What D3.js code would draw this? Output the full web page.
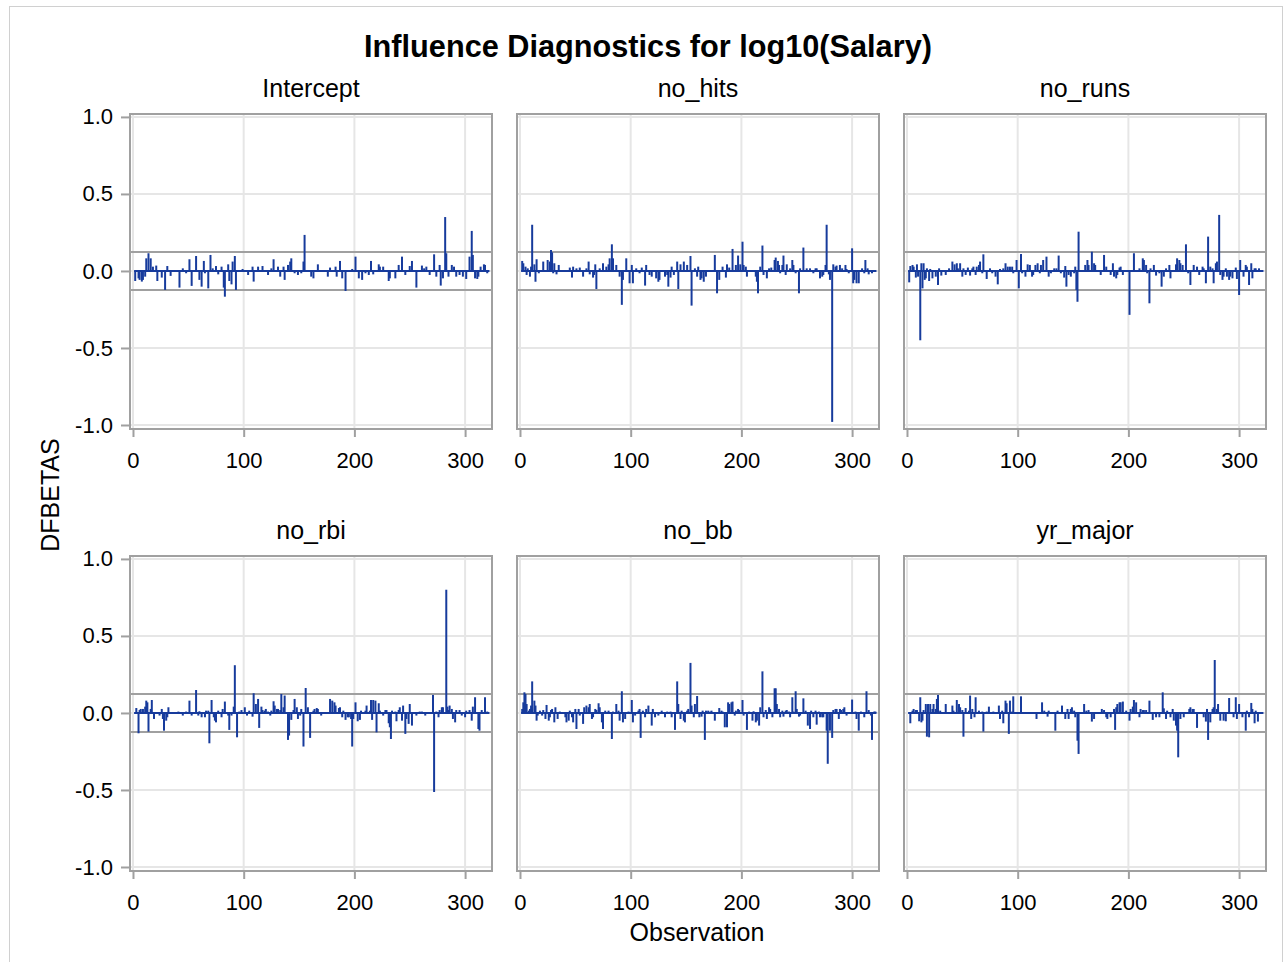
<!DOCTYPE html>
<html><head><meta charset="utf-8">
<script src="https://cdn.jsdelivr.net/npm/d3@7/dist/d3.min.js"></script>
<style>body{margin:0;background:#fff;}svg{display:block;font-family:"Liberation Sans",Arial,sans-serif;}</style>
</head><body>
<script>
// ---- data ----
const titleText = "Influence Diagnostics for log10(Salary)";
const panelNames = ["Intercept","no_hits","no_runs","no_rbi","no_bb","yr_major"];
const yTicks = [-1, -0.5, 0, 0.5, 1];
const yTickLabels = ["-1.0","-0.5","0.0","0.5","1.0"];
const xTicks = [0, 100, 200, 300];
const xTickLabels = ["0","100","200","300"];
const cutoff = 0.1233;   // 2/sqrt(n)
const nObs = 322;

// [observation, DFBETAS]
const intercept = [[2,-0.065],[5,-0.048],[6,-0.058],[8,-0.069],[9,-0.058],[11,-0.037],[12,0.082],[14,0.115],[16,0.082],[18,0.028],[21,0.035],[22,-0.065],[26,-0.043],[29,-0.123],[31,0.032],[34,-0.032],[42,-0.108],[45,0.017],[48,-0.015],[51,0.076],[53,-0.097],[57,0.097],[60,-0.058],[62,-0.102],[64,0.065],[65,-0.015],[68,-0.113],[70,0.104],[72,0.017],[75,0.032],[77,-0.022],[80,0.028],[82,-0.108],[83,-0.167],[86,0.043],[87,-0.065],[89,-0.087],[90,0.061],[92,0.097],[93,-0.123],[96,0.006],[99,0.013],[104,-0.026],[108,0.028],[109,-0.069],[113,0.028],[117,0.032],[122,-0.026],[125,0.017],[127,0.076],[131,0.028],[133,-0.037],[136,0.028],[137,-0.058],[140,0.039],[142,0.061],[143,0.082],[146,-0.015],[149,-0.026],[152,-0.015],[154,0.061],[155,0.234],[161,-0.037],[163,-0.048],[167,0.043],[176,-0.037],[178,0.022],[183,0.028],[184,-0.037],[187,0.065],[189,-0.048],[192,-0.13],[198,0.013],[201,0.093],[204,-0.048],[207,-0.058],[210,-0.015],[213,-0.026],[215,0.065],[217,-0.022],[222,0.043],[223,0.028],[226,0.028],[231,-0.065],[232,-0.048],[237,-0.048],[240,0.039],[243,0.093],[246,-0.026],[250,0.032],[252,0.065],[256,-0.108],[261,0.035],[263,0.017],[265,0.028],[268,-0.026],[272,0.108],[274,-0.037],[277,0.039],[278,-0.095],[280,-0.048],[282,0.35],[283,0.115],[285,-0.037],[288,0.039],[290,0.028],[292,-0.037],[295,-0.026],[298,-0.037],[301,-0.052],[304,0.093],[306,0.26],[307,0.104],[309,-0.048],[311,-0.052],[312,-0.037],[314,0.028],[317,0.043],[318,0.039],[320,-0.015]];

const noHits = [[2,0.065],[3,0.05],[5,0.028],[6,-0.026],[7,0.017],[9,-0.037],[10,0.028],[11,0.30],[13,0.043],[14,-0.07],[15,0.076],[17,-0.015],[21,0.061],[25,0.071],[27,0.061],[28,0.136],[29,0.121],[30,-0.015],[31,0.05],[33,-0.022],[35,0.039],[45,0.022],[47,-0.043],[48,0.028],[51,0.017],[54,0.022],[57,-0.037],[60,0.017],[62,0.061],[63,-0.022],[66,-0.043],[67,-0.026],[68,0.043],[69,-0.117],[72,0.017],[75,0.05],[78,0.028],[80,0.043],[81,0.082],[83,0.173],[84,0.082],[87,0.039],[90,-0.037],[92,-0.22],[93,-0.058],[96,0.082],[99,-0.08],[101,0.039],[102,-0.08],[105,0.017],[108,-0.015],[110,0.022],[113,-0.095],[114,0.039],[117,-0.026],[119,-0.037],[123,-0.048],[125,-0.07],[126,-0.058],[131,-0.037],[133,-0.026],[134,-0.102],[136,-0.043],[137,0.028],[139,-0.026],[142,0.061],[143,-0.117],[145,0.043],[148,0.061],[151,0.039],[154,0.097],[155,-0.225],[158,0.017],[160,-0.037],[161,0.028],[163,-0.058],[164,-0.048],[166,-0.07],[168,-0.037],[176,0.104],[178,-0.145],[180,-0.058],[183,0.028],[186,-0.043],[187,0.043],[189,0.022],[192,0.143],[195,0.039],[197,0.1],[199,0.043],[201,0.19],[202,0.039],[204,0.028],[205,-0.037],[213,-0.037],[214,-0.07],[215,-0.145],[217,0.028],[219,0.165],[220,-0.026],[223,-0.048],[225,0.017],[227,0.022],[230,0.071],[231,0.087],[233,0.065],[234,0.039],[235,-0.015],[237,0.039],[238,0.1],[240,-0.026],[241,0.043],[244,0.017],[246,0.071],[247,0.039],[249,-0.015],[252,-0.145],[253,0.017],[256,0.152],[259,0.017],[262,0.017],[265,-0.015],[267,0.017],[268,0.017],[271,-0.048],[273,-0.037],[274,-0.026],[276,0.039],[277,0.30],[279,-0.022],[280,-0.058],[282,-0.98],[283,0.043],[285,0.028],[286,0.035],[289,0.039],[291,0.017],[294,0.039],[295,0.013],[297,-0.015],[300,0.147],[301,-0.08],[302,-0.058],[304,-0.08],[306,-0.08],[309,0.017],[311,-0.015],[312,0.071],[314,0.017],[315,-0.022],[318,-0.015]];

const noRuns = [[2,-0.074],[3,0.032],[5,0.039],[6,0.028],[8,-0.043],[9,0.043],[10,-0.037],[12,-0.45],[13,0.05],[14,-0.113],[15,0.05],[16,-0.058],[17,-0.048],[18,0.017],[20,-0.065],[21,0.013],[23,-0.048],[26,-0.037],[28,-0.091],[29,0.017],[31,-0.03],[35,-0.026],[38,0.017],[41,0.061],[43,0.043],[45,0.05],[46,0.017],[48,0.05],[50,-0.037],[51,0.017],[53,-0.026],[55,0.022],[57,-0.03],[59,0.017],[60,0.028],[62,-0.026],[63,0.028],[65,0.039],[66,0.061],[68,-0.015],[69,0.108],[72,-0.052],[75,0.017],[77,-0.015],[80,-0.037],[82,-0.087],[84,0.013],[87,0.017],[89,0.05],[91,0.028],[93,0.028],[95,0.028],[96,-0.015],[99,0.071],[101,-0.113],[103,0.11],[104,-0.015],[107,-0.037],[109,0.043],[111,0.039],[113,-0.037],[114,-0.026],[116,0.039],[118,0.05],[120,-0.015],[121,0.039],[123,0.071],[126,0.093],[128,-0.037],[130,-0.015],[133,0.017],[135,0.017],[137,0.1],[139,-0.015],[142,-0.043],[143,0.032],[144,-0.102],[146,-0.026],[148,-0.037],[151,-0.015],[152,0.028],[153,-0.123],[154,-0.2],[155,0.255],[161,0.039],[163,0.071],[164,0.039],[167,0.125],[169,0.05],[170,0.039],[175,-0.026],[178,0.104],[180,0.028],[184,-0.026],[186,0.05],[187,-0.037],[189,-0.048],[190,-0.026],[192,0.022],[193,0.028],[195,-0.026],[201,-0.285],[205,0.115],[210,0.017],[213,0.082],[214,0.071],[216,0.039],[217,-0.015],[219,-0.21],[220,0.017],[223,0.039],[225,-0.03],[228,-0.015],[230,-0.102],[232,-0.037],[234,0.017],[237,0.039],[238,-0.048],[243,0.043],[244,0.082],[246,0.071],[247,0.05],[249,0.039],[252,0.173],[254,-0.015],[256,-0.091],[259,0.039],[262,0.028],[264,-0.026],[267,0.028],[268,0.017],[270,-0.08],[272,0.223],[274,0.028],[276,0.017],[277,-0.08],[279,0.05],[280,0.061],[282,0.364],[283,-0.026],[285,-0.058],[286,-0.037],[288,0.017],[289,-0.037],[291,-0.058],[292,-0.037],[294,-0.048],[297,0.022],[298,-0.052],[300,-0.156],[301,0.071],[304,-0.037],[306,0.039],[307,0.028],[309,-0.091],[311,0.05],[312,-0.048],[314,0.017],[315,0.017],[318,0.017]];

const noRbi = [[3,0.032],[5,-0.132],[6,0.019],[7,0.026],[9,0.026],[11,0.041],[12,0.08],[13,0.069],[14,-0.121],[16,0.026],[17,0.084],[19,-0.039],[24,-0.017],[26,0.026],[27,-0.039],[28,-0.115],[30,-0.05],[31,-0.028],[32,0.037],[41,0.009],[44,-0.006],[45,-0.017],[48,0.009],[51,0.08],[53,-0.017],[57,0.149],[59,-0.017],[60,0.011],[62,-0.028],[65,-0.028],[66,0.015],[68,0.015],[69,-0.197],[71,0.084],[73,-0.028],[74,-0.05],[75,-0.061],[77,0.015],[80,-0.028],[81,0.026],[83,0.074],[86,-0.017],[87,-0.11],[89,-0.017],[91,0.041],[92,0.31],[94,-0.158],[96,0.009],[98,0.019],[101,0.037],[103,-0.017],[105,0.015],[108,-0.024],[109,0.128],[111,0.058],[113,0.091],[114,-0.097],[116,0.041],[117,0.019],[119,0.015],[120,0.026],[122,0.009],[124,-0.017],[125,0.015],[127,0.076],[128,0.048],[130,0.026],[131,0.026],[133,0.019],[134,0.123],[136,0.037],[137,0.113],[140,-0.175],[141,-0.147],[143,-0.045],[145,0.019],[146,0.091],[148,0.037],[149,-0.039],[151,-0.017],[152,0.026],[154,-0.218],[156,0.162],[158,0.037],[160,-0.162],[163,0.015],[164,0.026],[166,0.032],[167,0.026],[170,-0.017],[178,0.091],[180,0.08],[182,0.069],[183,0.048],[186,0.032],[187,0.037],[189,-0.028],[190,0.015],[192,-0.045],[194,-0.028],[195,-0.028],[197,-0.039],[198,-0.218],[199,-0.039],[201,0.069],[203,-0.054],[205,-0.045],[206,0.015],[210,0.015],[211,0.048],[214,0.015],[215,0.084],[216,-0.045],[217,0.084],[219,0.08],[220,-0.126],[222,0.063],[223,0.015],[226,-0.017],[228,0.019],[229,0.019],[231,-0.067],[232,-0.093],[233,-0.169],[234,0.015],[237,0.009],[238,-0.054],[240,0.019],[241,0.037],[243,-0.05],[244,0.048],[246,-0.136],[247,-0.039],[249,-0.071],[250,0.058],[252,-0.082],[256,-0.017],[259,0.009],[261,0.009],[264,-0.017],[271,0.117],[272,-0.513],[274,0.009],[276,-0.028],[277,0.019],[279,0.037],[280,0.037],[283,0.80],[284,0.041],[285,0.019],[286,0.048],[288,0.026],[289,-0.039],[291,-0.061],[292,0.019],[295,0.019],[297,-0.017],[300,-0.028],[301,0.015],[304,0.019],[306,-0.05],[307,0.041],[309,0.102],[312,-0.104],[313,-0.115],[315,0.019],[318,0.102],[320,0.009]];

const noBb = [[2,0.026],[3,0.069],[4,0.134],[5,0.123],[6,0.058],[8,0.015],[9,0.026],[10,0.048],[11,0.205],[13,0.08],[14,0.048],[15,-0.05],[16,-0.017],[18,0.015],[20,-0.017],[21,0.019],[23,-0.039],[24,0.052],[26,-0.05],[27,-0.028],[28,0.019],[29,0.026],[31,-0.061],[32,0.037],[34,-0.039],[36,0.009],[41,-0.028],[42,-0.061],[44,-0.05],[45,0.015],[47,-0.028],[48,-0.061],[50,0.026],[51,-0.104],[53,0.026],[54,-0.017],[57,-0.071],[58,0.037],[60,0.048],[62,0.037],[63,0.058],[65,-0.039],[66,-0.028],[68,0.026],[69,0.019],[71,0.063],[72,0.037],[74,-0.061],[75,-0.104],[77,0.015],[80,0.015],[83,-0.169],[84,0.009],[87,0.058],[89,0.015],[90,-0.05],[92,0.141],[93,-0.061],[95,-0.039],[98,0.009],[101,0.084],[102,-0.061],[104,-0.017],[107,0.015],[108,0.026],[109,-0.162],[111,0.015],[113,-0.028],[114,0.026],[116,0.048],[119,-0.082],[120,0.026],[122,-0.028],[125,-0.017],[128,0.015],[131,-0.028],[133,0.009],[136,0.009],[137,-0.028],[140,-0.11],[142,0.205],[143,0.058],[145,-0.039],[146,0.015],[148,-0.05],[149,-0.061],[151,0.015],[152,0.026],[154,0.325],[155,0.048],[157,-0.028],[158,0.058],[160,0.11],[162,-0.028],[164,-0.024],[165,0.015],[167,-0.175],[168,0.015],[170,0.015],[172,0.009],[173,0.015],[176,-0.05],[180,0.032],[182,0.015],[183,0.009],[185,-0.093],[187,-0.093],[188,0.069],[189,0.058],[191,0.069],[192,0.074],[194,-0.017],[195,0.015],[197,0.026],[198,0.019],[201,0.084],[202,-0.017],[205,-0.11],[207,0.009],[210,-0.05],[211,0.011],[213,-0.061],[214,-0.05],[216,-0.082],[217,0.037],[219,0.27],[220,-0.028],[222,0.019],[223,-0.039],[225,0.037],[226,0.026],[228,-0.028],[230,0.16],[231,0.16],[232,0.058],[234,0.026],[235,-0.028],[237,0.015],[238,-0.024],[240,0.015],[241,0.019],[243,0.009],[244,-0.028],[246,0.102],[247,0.009],[249,0.141],[250,0.026],[252,-0.024],[253,-0.017],[256,0.095],[258,0.015],[260,-0.082],[262,-0.104],[263,0.015],[265,-0.028],[267,0.015],[268,-0.076],[270,0.009],[271,-0.028],[273,-0.028],[274,-0.028],[277,-0.115],[278,-0.33],[280,-0.115],[282,-0.162],[283,0.019],[285,0.026],[286,0.026],[288,-0.039],[289,0.026],[290,0.019],[292,0.026],[293,0.037],[295,-0.017],[300,0.087],[303,0.009],[304,-0.039],[306,-0.115],[308,0.009],[311,-0.028],[313,0.141],[315,0.019],[317,-0.017],[318,-0.175],[320,0.009],[321,0.009]];

const yrMajor = [[3,-0.067],[5,0.015],[6,0.026],[8,0.019],[9,0.019],[11,-0.054],[12,0.102],[13,-0.061],[14,-0.05],[15,0.019],[17,0.058],[18,-0.154],[19,0.058],[20,-0.158],[21,0.058],[23,0.026],[24,0.058],[26,0.026],[27,0.091],[28,0.117],[30,0.015],[35,0.058],[41,0.048],[42,0.015],[45,0.084],[47,0.058],[48,0.037],[50,0.019],[51,-0.154],[53,0.032],[56,0.015],[57,0.113],[58,-0.039],[59,0.026],[61,-0.028],[62,0.102],[65,0.015],[68,0.009],[69,-0.121],[72,0.009],[74,0.041],[78,0.009],[83,0.048],[84,-0.039],[86,0.015],[87,-0.067],[89,0.08],[90,0.063],[92,-0.136],[93,0.08],[95,0.009],[96,0.108],[103,0.108],[117,-0.039],[122,0.069],[124,0.015],[127,-0.024],[128,0.015],[134,-0.115],[136,0.015],[140,0.048],[143,-0.039],[145,0.026],[146,-0.039],[148,0.026],[149,0.037],[151,0.015],[152,-0.028],[154,-0.18],[155,-0.266],[160,0.058],[162,0.015],[164,0.019],[167,-0.056],[169,-0.039],[176,0.026],[178,0.019],[180,-0.028],[181,-0.039],[184,-0.028],[187,0.026],[188,-0.11],[189,0.037],[190,0.058],[192,0.069],[193,0.069],[195,0.074],[198,0.015],[201,-0.05],[202,0.026],[204,0.041],[205,0.084],[207,0.069],[210,-0.028],[211,0.026],[213,0.019],[214,0.019],[216,0.019],[219,0.08],[222,-0.045],[225,-0.028],[228,-0.028],[231,0.134],[232,0.03],[234,-0.039],[235,0.015],[238,-0.028],[240,0.026],[241,-0.05],[243,-0.082],[244,-0.115],[245,-0.288],[247,-0.039],[250,-0.028],[255,0.026],[256,0.037],[258,0.026],[259,0.026],[262,-0.097],[268,-0.028],[270,-0.056],[271,0.026],[272,-0.175],[274,-0.061],[276,0.026],[277,0.037],[278,0.344],[280,0.026],[281,0.058],[283,-0.05],[286,-0.05],[288,-0.054],[291,0.097],[295,-0.028],[297,0.102],[298,-0.039],[300,0.058],[303,-0.028],[306,-0.115],[307,0.015],[309,-0.028],[311,0.065],[312,0.026],[314,-0.067],[315,0.015],[317,-0.056]];

const seriesData = [intercept, noHits, noRuns, noRbi, noBb, yrMajor];

// ---- layout ----
const W = 1286, H = 962;
const colLeft = [130, 517, 904];
const rowTop = [114, 556];
const pw = 362, ph = 315;
const needleColor = "#173b9c";
const frameColor = "#a0a0a0";
const gridColor = "#e6e6e6";
const fontFam = "Liberation Sans, Arial, sans-serif";

const svg = d3.select("body").append("svg").attr("width", W).attr("height", H);
svg.append("rect").attr("x",0).attr("y",0).attr("width",W).attr("height",H).attr("fill","#fff");
svg.append("rect").attr("x",9.5).attr("y",6.5).attr("width",1273).attr("height",960)
  .attr("fill","none").attr("stroke","#d0d0d0").attr("stroke-width",1);

svg.append("text").attr("x",648).attr("y",57).attr("text-anchor","middle")
  .attr("font-size",30.7).attr("font-weight","bold").attr("fill","#000").text(titleText);

const x = d3.scaleLinear().domain([-2.7, 324.3]).range([0, pw]);
const y = d3.scaleLinear().domain([-1.026, 1.019]).range([ph, 0]);

panelNames.forEach((name, i) => {
  const col = i % 3, row = Math.floor(i / 3);
  const g = svg.append("g").attr("transform", `translate(${colLeft[col]},${rowTop[row]})`);
  g.selectAll(".gx").data(xTicks).enter().append("line")
    .attr("x1", d => x(d)).attr("x2", d => x(d)).attr("y1", 0).attr("y2", ph)
    .attr("stroke", gridColor).attr("stroke-width", 2);
  g.selectAll(".gy").data(yTicks).enter().append("line")
    .attr("x1", 0).attr("x2", pw).attr("y1", d => y(d)).attr("y2", d => y(d))
    .attr("stroke", gridColor).attr("stroke-width", 2);
  [cutoff, -cutoff].forEach(c => {
    g.append("line").attr("x1", 0).attr("x2", pw).attr("y1", y(c)).attr("y2", y(c))
      .attr("stroke", frameColor).attr("stroke-width", 2);
  });
  g.append("line").attr("x1", x(1)).attr("x2", x(nObs)).attr("y1", y(0)).attr("y2", y(0))
    .attr("stroke", needleColor).attr("stroke-width", 2);
  g.selectAll(".nd").data(seriesData[i]).enter().append("line")
    .attr("x1", d => x(d[0])).attr("x2", d => x(d[0]))
    .attr("y1", y(0)).attr("y2", d => y(d[1]))
    .attr("stroke", needleColor).attr("stroke-width", 2);
  g.append("rect").attr("x", 0).attr("y", 0).attr("width", pw).attr("height", ph)
    .attr("fill", "none").attr("stroke", frameColor).attr("stroke-width", 2);
  const xa = g.append("g").attr("transform", `translate(0,${ph})`)
    .call(d3.axisBottom(x).tickValues(xTicks).tickFormat((d, k) => xTickLabels[k]).tickSize(8).tickPadding(15));
  xa.select(".domain").remove();
  xa.selectAll("line").attr("stroke", frameColor).attr("stroke-width", 2);
  xa.selectAll("text").attr("font-size", 22).attr("fill", "#000").attr("font-family", fontFam);
  const ya = g.append("g").call(d3.axisLeft(y).tickValues(yTicks).tickFormat((d, k) => col === 0 ? yTickLabels[k] : "").tickSize(col === 0 ? 9 : 0).tickPadding(8));
  ya.select(".domain").remove();
  ya.selectAll("line").attr("stroke", frameColor).attr("stroke-width", 2);
  ya.selectAll("text").attr("font-size", 22).attr("fill", "#000").attr("font-family", fontFam);
  g.append("text").attr("x", pw / 2).attr("y", -17).attr("text-anchor", "middle")
    .attr("font-size", 25).attr("fill", "#000").text(name);
});

svg.append("text").attr("transform", "translate(59,495) rotate(-90)").attr("text-anchor", "middle")
  .attr("font-size", 25).attr("fill", "#000").text("DFBETAS");
svg.append("text").attr("x", 697).attr("y", 941).attr("text-anchor", "middle")
  .attr("font-size", 25).attr("fill", "#000").text("Observation");
</script>
</body></html>
